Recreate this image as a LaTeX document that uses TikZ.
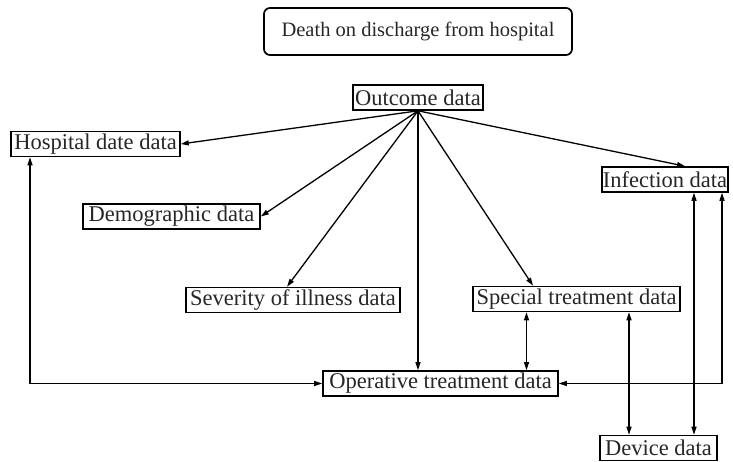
\documentclass[tikz,border=0pt]{standalone}
\usepackage{fontspec}
\setmainfont{Liberation Serif}
\usetikzlibrary{arrows.meta,calc}
\begin{document}
\begin{tikzpicture}[x=1pt,y=-1pt,
  databox/.style={draw, line width=1.6pt, inner sep=0pt, minimum height=25pt,
    font=\fontsize{22.5}{26}\selectfont, text=black!85},
  titlebox/.style={draw, line width=1.7pt, rounded corners=6pt, inner sep=0pt,
    minimum width=308pt, minimum height=47pt, font=\fontsize{20.5}{24}\selectfont, text=black!85},
  link/.style={line width=1.3pt, -{Triangle[length=8pt,width=5pt]}},
  twoway/.style={line width=1.3pt, {Triangle[length=8pt,width=5pt]}-{Triangle[length=8pt,width=5pt]}}]
  \useasboundingbox (0,0) rectangle (733,462);

  % headline
  \node[titlebox] (title) at (418,31.5) {Death on discharge from hospital};

  % data sources
  \node[databox, minimum width=130pt] (outcome)  at (418,97.5)   {Outcome data};
  \node[databox, minimum width=169pt] (hospital) at (95.5,144)   {Hospital date data};
  \node[databox, minimum width=177pt] (demo)     at (171.5,216.5){Demographic data};
  \node[databox, minimum width=214pt] (severity) at (293,300)    {Severity of illness data};
  \node[databox, minimum width=207pt] (special)  at (576.5,299)  {Special treatment data};
  \node[databox, minimum width=235pt] (operative)at (440.5,383.5){Operative treatment data};
  \node[databox, minimum width=126pt] (infection)at (665,179.5)  {Infection data};
  \node[databox, minimum width=117pt] (device)   at (658.5,448)  {Device data};

  % fan-out from the outcome record
  \draw[link] (outcome.south) -- (hospital.east);
  \draw[link] (outcome.south) -- (demo.east);
  \draw[link] (outcome.south) -- ([xshift=-6pt]severity.north);
  \draw[link] (outcome.south) -- (outcome.south |- operative.north);
  \draw[link] (outcome.south) -- ([xshift=-43.5pt]special.north);
  \draw[link] (outcome.south) -- ([xshift=20pt]infection.north);

  % two-way links between sources
  \draw[twoway] ([xshift=-65.5pt]hospital.south) |- (operative.west);
  \coordinate (sp1) at ([xshift=-50pt]special.south);
  \draw[twoway] (sp1) -- (sp1 |- operative.north);
  \coordinate (sp2) at ([xshift=52.5pt]special.south);
  \draw[twoway] (sp2) -- (sp2 |- device.north);
  \coordinate (in1) at ([xshift=29pt]infection.south);
  \draw[twoway] (in1) -- (in1 |- device.north);
  \draw[twoway] ([xshift=57pt]infection.south) |- (operative.east);
\end{tikzpicture}
\end{document}
